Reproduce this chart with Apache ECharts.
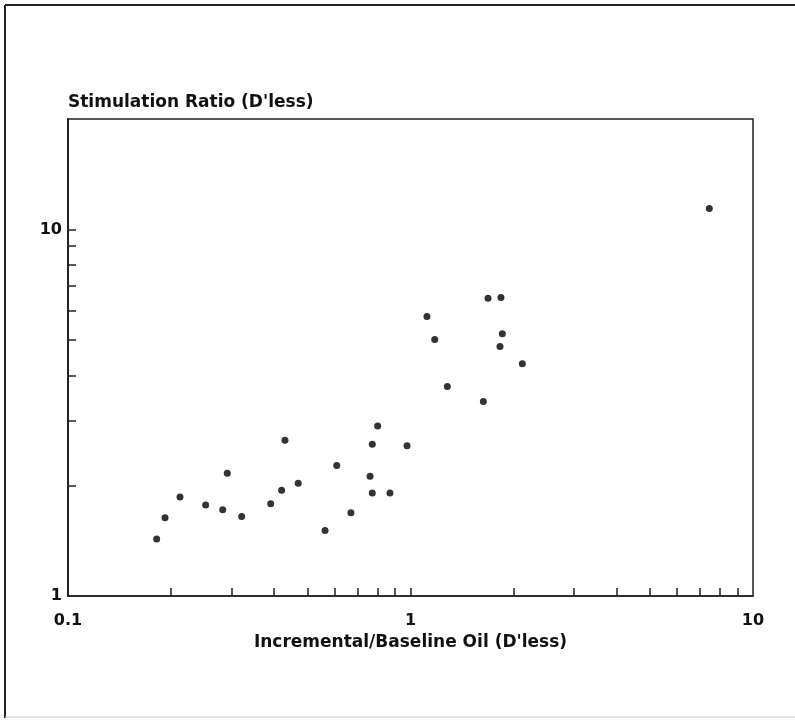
<!DOCTYPE html>
<html>
<head>
<meta charset="utf-8">
<script src="https://cdn.jsdelivr.net/npm/echarts@6/dist/echarts.min.js"></script>
<style>html,body{margin:0;padding:0;background:#fff;}#c{width:795px;height:723px;}</style>
</head>
<body>
<div id="c"></div>
<script>
const xName = "Incremental/Baseline Oil (D'less)";
const yName = "Stimulation Ratio (D'less)";
const xLabels = [0.1, 1, 10];
const yLabels = [1, 10];
const xTicks = [0.2,0.3,0.4,0.5,0.6,0.7,0.8,0.9,1,2,3,4,5,6,7,8,9];
const yTicks = [2,3,4,5,6,7,8,9,10];
const oilRatio = [0.1815,0.192,0.2123,0.2918,0.2523,0.283,0.3215,0.430,0.4205,0.3907,0.470,0.563,0.609,0.670,0.802,0.7734,0.762,0.7734,0.871,0.977,1.684,1.837,1.117,1.177,1.854,1.825,2.121,1.281,1.632,7.454];
const stimRatio = [1.431,1.635,1.862,2.163,1.770,1.720,1.648,2.661,1.944,1.786,2.031,1.509,2.271,1.687,2.908,2.594,2.123,1.910,1.910,2.571,6.493,6.517,5.79,5.01,5.19,4.79,4.30,3.728,3.39,11.40];
const points = oilRatio.map((x, i) => [x, stimRatio[i]]);

const font = "'DejaVu Sans', Arial, sans-serif";
const chart = echarts.init(document.getElementById('c'));
chart.setOption({
  animation: false,
  backgroundColor: '#fff',
  grid: { left: 68, right: 42, top: 119, bottom: 127, show: true, borderColor: '#222', borderWidth: 1.5, backgroundColor: 'transparent' },
  xAxis: {
    type: 'log', logBase: 10, min: 0.1, max: 10,
    name: xName, nameLocation: 'middle', nameGap: 36,
    nameTextStyle: { fontFamily: font, fontWeight: 'bold', fontSize: 17, color: '#111' },
    axisLine: { show: true, lineStyle: { color: '#222', width: 1.5 } },
    axisTick: { show: true, inside: true, length: 8, customValues: xTicks, lineStyle: { color: '#222', width: 1.5 } },
    axisLabel: { customValues: xLabels, margin: 17, fontFamily: font, fontWeight: 'bold', fontSize: 16, color: '#111', formatter: v => String(v) },
    splitLine: { show: false }, minorTick: { show: false }
  },
  yAxis: {
    type: 'log', logBase: 10, min: 1, max: 20,
    name: yName, nameLocation: 'end', nameGap: 16,
    nameTextStyle: { fontFamily: font, fontWeight: 'bold', fontSize: 17, color: '#111', align: 'left', verticalAlign: 'middle' },
    axisLine: { show: true, lineStyle: { color: '#222', width: 2 } },
    axisTick: { show: true, inside: true, length: 8, customValues: yTicks, lineStyle: { color: '#222', width: 1.5 } },
    axisLabel: { customValues: yLabels, margin: 6, fontFamily: font, fontWeight: 'bold', fontSize: 16, color: '#111', formatter: v => String(v) },
    splitLine: { show: false }, minorTick: { show: false }
  },
  series: [{
    type: 'scatter', data: points, symbol: 'circle', symbolSize: 7,
    itemStyle: { color: '#000' }
  }],
  graphic: [
    { type: 'line', shape: { x1: 5, y1: 5, x2: 795, y2: 5 }, style: { stroke: '#222', lineWidth: 2 } },
    { type: 'line', shape: { x1: 5, y1: 5, x2: 5, y2: 718 }, style: { stroke: '#222', lineWidth: 2 } },
    { type: 'line', shape: { x1: 5, y1: 717, x2: 795, y2: 717 }, style: { stroke: '#ccc', lineWidth: 1 } }
  ]
});
</script>
</body>
</html>
